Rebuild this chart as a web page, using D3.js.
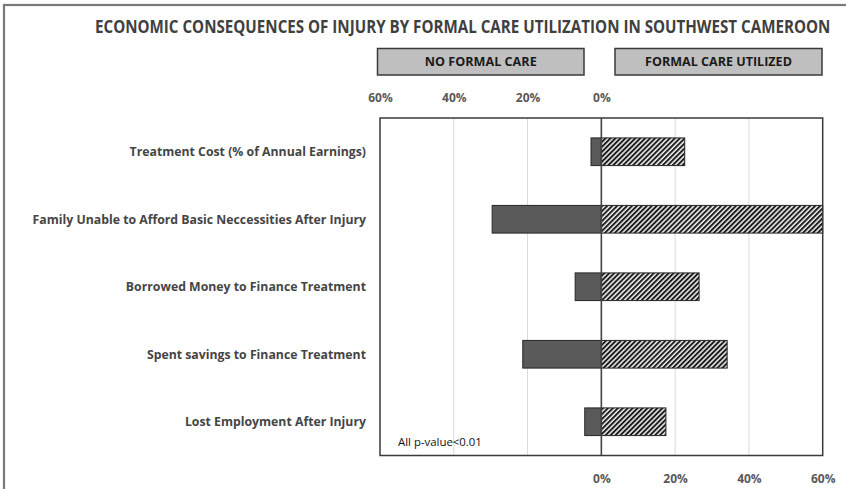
<!DOCTYPE html>
<html>
<head>
<meta charset="utf-8">
<script src="https://cdn.jsdelivr.net/npm/d3@7"></script>
<style>
  html, body { margin: 0; padding: 0; background: #fff; }
  svg { display: block; }
  text { font-family: "Open Sans", "Noto Sans", sans-serif; }
</style>
</head>
<body>
<svg id="chart" width="846" height="489"></svg>
<script>
// Economic consequences of injury, split by whether formal care was used
const categories = [
  "Treatment Cost (% of Annual Earnings)",
  "Family Unable to Afford Basic Neccessities After Injury",
  "Borrowed Money to Finance Treatment",
  "Spent savings to Finance Treatment",
  "Lost Employment After Injury"
];
const noFormalCare = [2.8, 29.6, 7.1, 21.3, 4.5];
const formalCareUtilized = [22.6, 60, 26.5, 34.1, 17.5];
const topTicks = [-60, -40, -20, 0];
const bottomTicks = [0, 20, 40, 60];
const gridTicks = [-40, -20, 20, 40];
const chartTitle = "ECONOMIC CONSEQUENCES OF INJURY BY FORMAL CARE UTILIZATION IN SOUTHWEST CAMEROON";
const groupNames = ["NO FORMAL CARE", "FORMAL CARE UTILIZED"];
const footnote = "All p-value<0.01";

const svg = d3.select("#chart");
const W = 846, H = 489;
const plot = { left: 380, right: 822.7, top: 118, bottom: 455.5 };

// Places a text at (px, py) and squeezes it horizontally by a factor k
function placeText(parent, str, px, py, k, anchor) {
  const g = parent.append("g").attr("transform", `translate(${px},${py}) scale(${k},1)`);
  return g.append("text").attr("text-anchor", anchor || "start").text(str);
}
function squeezeFor(textSel, target) {
  return target / textSel.node().getComputedTextLength();
}

svg.append("rect").attr("width", W).attr("height", H).attr("fill", "#fff");

// outer frame (top and left edges visible)
svg.append("rect")
  .attr("x", 4).attr("y", 5).attr("width", W + 10).attr("height", H + 10)
  .attr("fill", "none").attr("stroke", "#7a7a7a").attr("stroke-width", 2.2);

// hatch pattern for the formal-care bars
const defs = svg.append("defs");
const pat = defs.append("pattern")
  .attr("id", "hatch").attr("patternUnits", "userSpaceOnUse")
  .attr("width", 3.5).attr("height", 3.5)
  .attr("patternTransform", "rotate(45)");
pat.append("rect").attr("width", 3.5).attr("height", 3.5).attr("fill", "#eeeeee");
pat.append("line").attr("x1", 1).attr("y1", 0).attr("x2", 1).attr("y2", 3.5)
  .attr("stroke", "#161616").attr("stroke-width", 1.9);

const x = d3.scaleLinear().domain([-60, 60]).range([plot.left, plot.right]);
const y = d3.scaleBand().domain(categories).range([plot.top, plot.bottom])
  .paddingInner(0.59).paddingOuter(0.295);

// title
const title = placeText(svg, chartTitle, 95, 33, 1)
  .attr("font-size", 17).attr("font-weight", 700).attr("fill", "#3f3f3f");
d3.select(title.node().parentNode)
  .attr("transform", `translate(95,33) scale(${squeezeFor(title, 736)},1)`);

// group header boxes
const headers = [
  { name: groupNames[0], x0: 377.5, x1: 584, w: 112 },
  { name: groupNames[1], x0: 615, x1: 822, w: 147 }
];
headers.forEach(h => {
  svg.append("rect")
    .attr("x", h.x0).attr("y", 48.5).attr("width", h.x1 - h.x0).attr("height", 26.5)
    .attr("fill", "#bfbfbf").attr("stroke", "#3a3a3a").attr("stroke-width", 1.5);
  const cx = (h.x0 + h.x1) / 2;
  const t = placeText(svg, h.name, cx, 66, 1, "middle")
    .attr("font-size", 13).attr("font-weight", 700).attr("fill", "#1a1a1a");
  d3.select(t.node().parentNode)
    .attr("transform", `translate(${cx},66) scale(${squeezeFor(t, h.w)},1)`);
});

// gridlines
svg.append("g").selectAll("line").data(gridTicks).join("line")
  .attr("x1", d => x(d)).attr("x2", d => x(d))
  .attr("y1", plot.top).attr("y2", plot.bottom)
  .attr("stroke", "#d9d9d9").attr("stroke-width", 1);

// bars: no formal care extends left, formal care extends right
const rows = categories.map((c, i) => ({ c, neg: noFormalCare[i], pos: formalCareUtilized[i] }));
svg.append("g").selectAll("rect").data(rows).join("rect")
  .attr("x", d => x(-d.neg)).attr("width", d => x(0) - x(-d.neg))
  .attr("y", d => y(d.c)).attr("height", y.bandwidth())
  .attr("fill", "#5a5a5a").attr("stroke", "#262626").attr("stroke-width", 1);
svg.append("g").selectAll("rect").data(rows).join("rect")
  .attr("x", x(0)).attr("width", d => x(d.pos) - x(0))
  .attr("y", d => y(d.c)).attr("height", y.bandwidth())
  .attr("fill", "url(#hatch)").attr("stroke", "#262626").attr("stroke-width", 1);

// plot frame and zero line
svg.append("rect")
  .attr("x", plot.left).attr("y", plot.top)
  .attr("width", plot.right - plot.left).attr("height", plot.bottom - plot.top)
  .attr("fill", "none").attr("stroke", "#3a3a3a").attr("stroke-width", 1.5);
svg.append("line")
  .attr("x1", x(0)).attr("x2", x(0)).attr("y1", plot.top).attr("y2", plot.bottom)
  .attr("stroke", "#444").attr("stroke-width", 1.6);

// axes
const fmt = d => Math.abs(d) + "%";
const topAxis = svg.append("g").attr("transform", `translate(0,${plot.top - 13})`)
  .call(d3.axisTop(x).tickValues(topTicks).tickSize(0).tickFormat(fmt));
const bottomAxis = svg.append("g").attr("transform", `translate(0,${plot.bottom + 16})`)
  .call(d3.axisBottom(x).tickValues(bottomTicks).tickSize(0).tickFormat(fmt));
[topAxis, bottomAxis].forEach(g => {
  g.select(".domain").remove();
  g.selectAll("text")
    .attr("font-family", "'Open Sans', sans-serif")
    .attr("font-size", 12).attr("font-weight", 700).attr("fill", "#595959");
});
topAxis.selectAll("text").attr("dy", 0);
bottomAxis.selectAll("text").attr("dy", "0.71em");

// category labels, right-aligned beside the plot
const labelGroups = svg.append("g").selectAll("g").data(categories).join("g");
const labels = labelGroups.append("text")
  .attr("dy", "0.35em").attr("text-anchor", "end")
  .attr("font-size", 12.5).attr("font-weight", 700).attr("fill", "#454545")
  .text(d => d);
const widest = d3.max(labels.nodes(), n => n.getComputedTextLength());
const k = 334 / widest;
labelGroups.attr("transform", d => `translate(366,${y(d) + y.bandwidth() / 2}) scale(${k},1)`);

// footnote
const fn = placeText(svg, footnote, 398, 446, 1)
  .attr("font-size", 11).attr("fill", "#111");
d3.select(fn.node().parentNode)
  .attr("transform", `translate(398,446) scale(${squeezeFor(fn, 84)},1)`);
</script>
</body>
</html>
